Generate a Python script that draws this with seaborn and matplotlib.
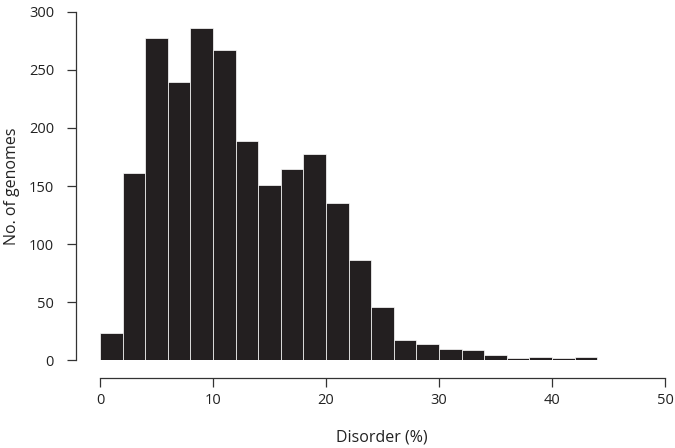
import matplotlib
matplotlib.use("Agg")
import matplotlib.pyplot as plt
import seaborn as sns
import numpy as np

bin_edges = [0, 2, 4, 6, 8, 10, 12, 14, 16, 18, 20, 22, 24, 26, 28, 30, 32, 34, 36, 38, 40, 42, 44, 46]
counts = [23, 161, 278, 240, 286, 267, 189, 151, 165, 178, 135, 86, 46, 17, 14, 9.5, 8.3, 4.3, 1.6, 2.4, 1.6, 2.3, 0]
x_ticks = [0, 10, 20, 30, 40, 50]
y_ticks = [0, 50, 100, 150, 200, 250, 300]

sns.set_style("ticks")
plt.rcParams['font.family'] = ['Open Sans', 'DejaVu Sans']

centers = [(a + b) / 2 for a, b in zip(bin_edges[:-1], bin_edges[1:])]

PX = 72 / 100  # points per pixel

fig = plt.figure(figsize=(6.75, 4.48), dpi=100)
ax = fig.add_axes([100/675, 1 - 360/448, 565/675, 348/448])
sns.histplot(x=centers, weights=counts, bins=bin_edges, ax=ax,
             color="#231f20", edgecolor="white", linewidth=0.5, alpha=1.0)

ax.set_xlim(0, 50)
ax.set_ylim(0, 300)
ax.set_xticks(x_ticks)
ax.set_yticks(y_ticks)
ax.set_yticklabels([str(v) for v in y_ticks], rotation=90, va="center")
ax.spines['top'].set_visible(False)
ax.spines['right'].set_visible(False)
ax.spines['left'].set_position(('outward', 24 * PX))
ax.spines['bottom'].set_position(('outward', 18 * PX))
ax.spines['left'].set_bounds(0, 300)
ax.spines['bottom'].set_bounds(0, 50)
for s in ['left', 'bottom']:
    ax.spines[s].set_color("#333333")
    ax.spines[s].set_linewidth(0.9)
ax.tick_params(axis='both', length=9 * PX, width=0.9, color="#333333", labelsize=10.5,
               labelcolor="#222222")
ax.tick_params(axis='y', pad=13 * PX)
ax.tick_params(axis='x', pad=6 * PX)
ax.set_xlabel("")
ax.set_ylabel("")
fig.text(382/675, 1 - 437/448, "Disorder (%)", fontsize=11.5, color="#222222",
         ha="center", va="center")
fig.text(12/675, 1 - 186/448, "No. of genomes", fontsize=11.5, color="#222222",
         ha="center", va="center", rotation=90)

fig.savefig("out.png", dpi=100)
